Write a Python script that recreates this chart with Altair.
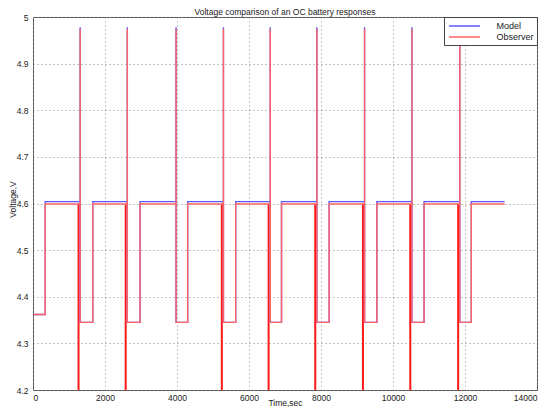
import altair as alt
import pandas as pd

# ---- values ----
series_names = ["Model", "Observer"]
series_colors = ["#5a5aff", "#ff6464"]
start_level = 4.362
high_model = 4.604
high_obs = 4.599
low_level = 4.345
spike_top = 4.975
model_spike_top = 4.978
first_rise = 340
drop_times = [1265, 2575, 3930, 5245, 6545, 7840, 9165, 10480, 11810]
rise_times = [1660, 2975, 4296, 5630, 6903, 8227, 9551, 10863, 12175]
end_time = 13100
spike_lag = 45
down_spike_times = [1265, 2575, 5245, 6545, 7840, 9165, 10480, 11810]
down_spike_bottom = 4.2
x_ticks = [0, 2000, 4000, 6000, 8000, 10000, 12000, 14000]
y_ticks = [4.2, 4.3, 4.4, 4.5, 4.6, 4.7, 4.8, 4.9, 5.0]

# ---- build step tables ----
def build(series, high, top):
    pts = [(0, start_level), (first_rise, start_level), (first_rise, high)]
    for d, r in zip(drop_times, rise_times):
        s = d + spike_lag
        pts += [(s, high), (s, top), (s, low_level), (r, low_level), (r, high)]
    pts.append((end_time, high))
    return [{"t": t, "v": v, "series": series, "i": k} for k, (t, v) in enumerate(pts)]

rows = build("Model", high_model, model_spike_top) + build("Observer", high_obs, spike_top)
df = pd.DataFrame(rows)
spikes = pd.DataFrame({"t": down_spike_times, "lo": [down_spike_bottom] * len(down_spike_times),
                       "hi": [high_obs] * len(down_spike_times)})

xscale = alt.Scale(domain=[0, 14000], nice=False, zero=False)
yscale = alt.Scale(domain=[4.2, 5.0], nice=False, zero=False)

lines = alt.Chart(df).mark_line(clip=True, strokeWidth=1.4).encode(
    x=alt.X("t:Q", scale=xscale,
            axis=alt.Axis(values=x_ticks, format="d", title="Time,sec", labelPadding=3,
                          titleY=17, titleBaseline="bottom")),
    y=alt.Y("v:Q", scale=yscale,
            axis=alt.Axis(values=y_ticks, title="Voltage,V", labelPadding=5,
                          labelExpr="datum.value >= 4.999 ? '5' : format(datum.value, '.1f')",
                          titleX=-21, titleY=182, titleBaseline="middle")),
    color=alt.Color("series:N", scale=alt.Scale(domain=series_names, range=series_colors),
                    legend=alt.Legend(title=None, orient="top-right", offset=0)),
    order=alt.Order("i:Q"),
)

downs = alt.Chart(spikes).mark_rule(clip=True, color="#ff1a1a", strokeWidth=2).encode(
    x="t:Q", y="lo:Q", y2="hi:Q"
)

chart = alt.layer(downs, lines).properties(
    width=504, height=373,
    title=alt.TitleParams("Voltage comparison of an OC battery responses", fontSize=8.5,
                          fontWeight="normal", offset=0, dy=3, font="Liberation Sans",
                          color="#222"),
    autosize=alt.AutoSizeParams(type="none"),
    padding={"left": 25, "top": 9, "right": 4, "bottom": 17},
).configure_view(
    stroke="#555", strokeWidth=1
).configure_axis(
    domain=False, ticks=False, grid=True, gridColor="#888", gridDash=[1, 3], gridWidth=1,
    labelFont="Liberation Sans", titleFont="Liberation Sans", labelFontSize=8.5,
    titleFontSize=8.5, titleFontWeight="normal", labelColor="#222", titleColor="#222",
).configure_legend(
    symbolType="M-3.1,0H3.1", symbolSize=100, symbolStrokeWidth=1.5, symbolOffset=11.5,
    labelFont="Liberation Sans", labelFontSize=9, labelColor="#222", labelOffset=26,
    strokeColor="#444", fillColor="white", padding=3, rowPadding=0, cornerRadius=0,
)

chart.save("out.html", embed_options={"renderer": "svg", "actions": False})
